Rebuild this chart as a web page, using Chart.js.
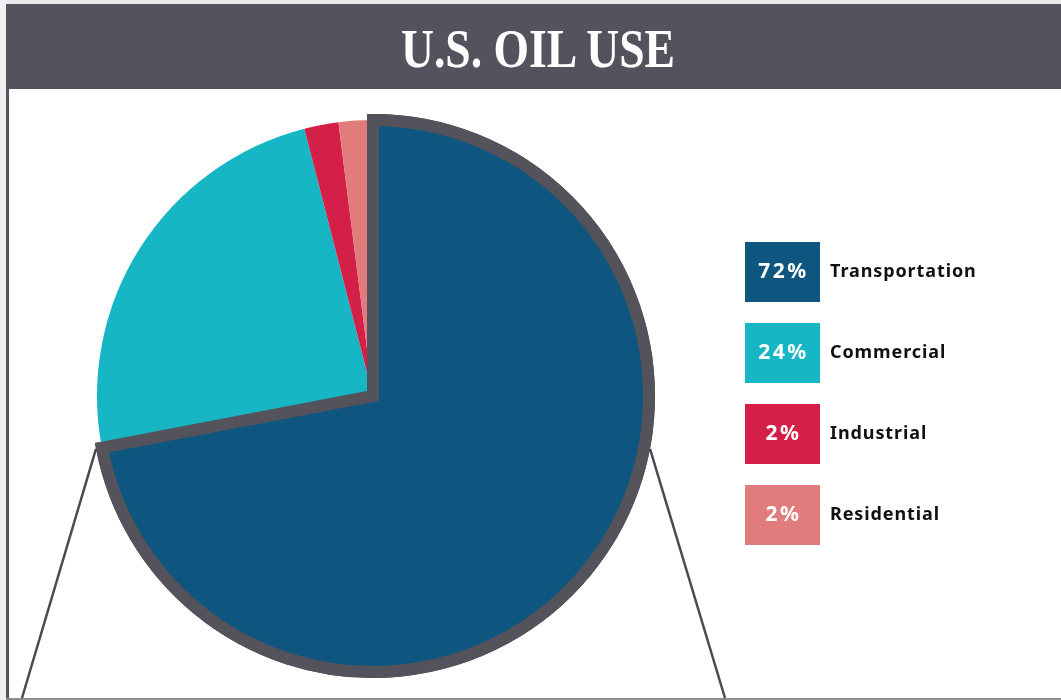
<!DOCTYPE html>
<html>
<head>
<meta charset="utf-8">
<script src="https://cdn.jsdelivr.net/npm/chart.js@4.4.1/dist/chart.umd.min.js"></script>
<style>
  html, body { margin: 0; padding: 0; background: #fff; }
  body { width: 1061px; height: 700px; position: relative; overflow: hidden; }
  .strip-top { position: absolute; left: 0; top: 0; width: 1061px; height: 4px; background: #e9eaec; }
  .strip-left { position: absolute; left: 0; top: 0; width: 6px; height: 700px; background: #eff0f2; }
  .titlebar { position: absolute; left: 6px; top: 4px; width: 1055px; height: 85px; background: #53535d; }
  .border-left { position: absolute; left: 6px; top: 89px; width: 3px; height: 611px; background: #55555e; }
  .border-bottom { position: absolute; left: 6px; top: 698px; width: 1055px; height: 2px; background: #8c8c8c; }
  .title {
    position: absolute; left: 338px; top: 22px; width: 400px; height: 54px;
    text-align: center; color: #fff;
    font-family: "Liberation Serif", "DejaVu Serif", serif; font-weight: bold;
    font-size: 55px; line-height: 54px;
    transform: scaleX(0.83); transform-origin: center;
  }
  #wrap { position: absolute; left: 0; top: 89px; width: 1061px; height: 611px; }
  #legend { position: absolute; left: 745px; top: 242px; }
  .item { display: flex; align-items: center; height: 60px; margin-bottom: 21px; }
  .box {
    width: 75px; height: 60px; display: flex; align-items: center; justify-content: center;
    color: #fff; font-family: "Noto Sans", sans-serif; font-weight: 700; font-size: 21px;
    letter-spacing: 2.5px;
  }
  .box span { position: relative; top: -2px; left: 1px; }
  .lab {
    margin-left: 10px; color: #111; font-family: "Noto Sans", sans-serif; font-weight: 700;
    font-size: 18px; letter-spacing: 0.9px; position: relative; top: -2px;
  }
</style>
</head>
<body>
<div class="strip-top"></div>
<div class="strip-left"></div>
<div class="titlebar"></div>
<div class="title">U.S. OIL USE</div>
<div class="border-left"></div>
<div class="border-bottom"></div>
<div id="wrap"><canvas id="chart" width="1061" height="611"></canvas></div>
<div id="legend"></div>
<script>
// data
const categories = ["Transportation", "Commercial", "Industrial", "Residential"];
const shares = [72, 24, 2, 2];
const colors = ["#0e5580", "#17b6c5", "#d41f48", "#e27b7b"];
const outlineColor = "#54535c";

// legend boxes with the percentage inside
const legend = document.getElementById("legend");
categories.forEach((name, i) => {
    const row = document.createElement("div");
    row.className = "item";
    row.innerHTML = '<div class="box" style="background:' + colors[i] + '"><span>' + shares[i] + '%</span></div>' +
        '<div class="lab">' + name + '</div>';
    legend.appendChild(row);
});

// redraw the outlined slice on top, then the two "zoom" lines from its edge
const outlinePlugin = {
    id: "outline",
    afterDatasetsDraw(chart) {
        const arc = chart.getDatasetMeta(0).data[0];
        arc.draw(chart.ctx);
    },
    afterDraw(chart) {
        const ctx = chart.ctx;
        const arc = chart.getDatasetMeta(0).data[0];
        const { x, y, outerRadius, endAngle } = arc.getProps(["x", "y", "outerRadius", "endAngle"], true);
        const r = outerRadius + 6;
        const lx = x + r * Math.cos(endAngle);
        const ly = y + r * Math.sin(endAngle);
        const rx = x - r * Math.cos(endAngle);
        const bottom = chart.height - 2;
        ctx.save();
        ctx.strokeStyle = "#4b4a54";
        ctx.lineWidth = 2.5;
        ctx.beginPath();
        ctx.moveTo(lx, ly);
        ctx.lineTo(22, bottom);
        ctx.moveTo(rx, ly);
        ctx.lineTo(725, bottom);
        ctx.stroke();
        ctx.restore();
    }
};

new Chart(document.getElementById("chart").getContext("2d"), {
    type: "pie",
    data: {
        labels: categories,
        datasets: [
            {
                data: shares,
                backgroundColor: colors,
                borderColor: [outlineColor, "rgba(0,0,0,0)", "rgba(0,0,0,0)", "rgba(0,0,0,0)"],
                borderWidth: [12, 0, 0, 0],
                borderJoinStyle: "miter",
                hoverOffset: 0
            }
        ]
    },
    options: {
        responsive: false,
        animation: false,
        events: [],
        radius: 276,
        layout: { padding: { left: 97, right: 412, top: 31, bottom: 28 } },
        plugins: {
            legend: { display: false },
            tooltip: { enabled: false }
        }
    },
    plugins: [outlinePlugin]
});
</script>
</body>
</html>
